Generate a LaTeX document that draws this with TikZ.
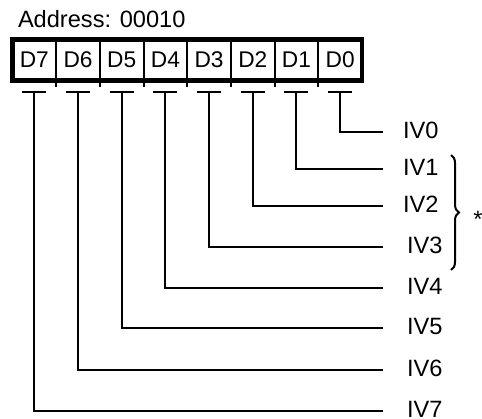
\documentclass[tikz,border=0pt]{standalone}
\usepackage{fontspec}
\setmainfont{Liberation Sans}
\usetikzlibrary{positioning,decorations.pathreplacing}

\begin{document}
\begin{tikzpicture}[
    x=1pt, y=-1pt,
    node distance=0pt and 0pt,
    every node/.style={font=\fontsize{23.6}{28}\selectfont, outer sep=0pt},
    cell/.style={rectangle, draw, line width=2pt, minimum width=43.69pt, minimum height=41pt, inner sep=0pt, font=\fontsize{22.7}{27}\selectfont},
    wire/.style={line width=2pt},
    ivlabel/.style={anchor=west, inner xsep=20pt, inner ysep=0pt, text depth=4pt},
    ivfar/.style={ivlabel, inner xsep=24pt}
]
\useasboundingbox (0,0) rectangle (482,418);

\node[anchor=base west, inner sep=0pt] (addr) at (18,27) {Address: 00010};

% register cells
\node[cell] (d7) at (34.35,60) {D7};
\node[cell, right=of d7] (d6) {D6};
\node[cell, right=of d6] (d5) {D5};
\node[cell, right=of d5] (d4) {D4};
\node[cell, right=of d4] (d3) {D3};
\node[cell, right=of d3] (d2) {D2};
\node[cell, right=of d2] (d1) {D1};
\node[cell, right=of d1] (d0) {D0};
\draw[line width=4.5pt] (d7.north west) rectangle (d0.south east);

% stubs below the dividers
\foreach \c in {d7,d6,d5,d4,d3,d2,d1}
  \draw[wire] (\c.south east) -- ++(0,6.5);

% interrupt vector labels
\node[ivlabel] (iv0) at (383,132) {IV0};
\node[ivlabel] (iv1) at (383,169) {IV1};
\node[ivlabel] (iv2) at (383,206) {IV2};
\node[ivfar] (iv3) at (383,247) {IV3};
\node[ivfar] (iv4) at (383,288) {IV4};
\node[ivfar] (iv5) at (383,328) {IV5};
\node[ivfar] (iv6) at (383,370) {IV6};
\node[ivfar] (iv7) at (383,411) {IV7};

% T-taps and wires
\foreach \b in {0,...,7} {
  \coordinate (t\b) at ([yshift=-11.5pt]d\b.south);
  \draw[wire] ([xshift=-12pt]t\b) -- ([xshift=12pt]t\b);
  \draw[wire] (t\b) |- (iv\b.west);
}

% brace over IV1..IV3
\coordinate (btop) at (451,155);
\coordinate (bbot) at (451,270);
\draw[wire, decorate, decoration={brace, amplitude=8pt}] (btop) -- (bbot);
\node (star) at (478,219) {*};

\end{tikzpicture}
\end{document}
